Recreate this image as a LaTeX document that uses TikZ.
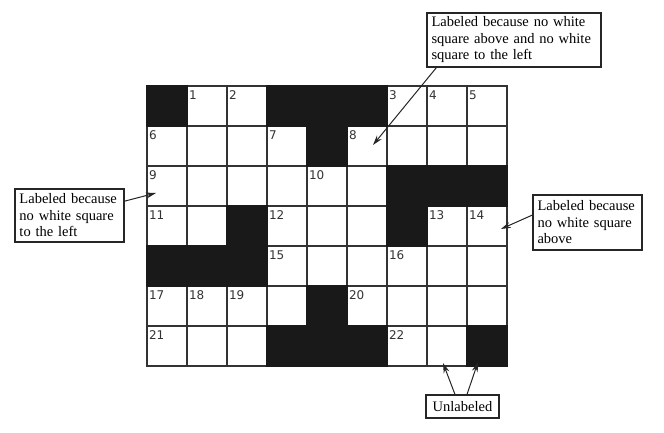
\documentclass[tikz,border=0pt]{standalone}
\usepackage{fontspec}
\setmainfont{Liberation Serif}
\newfontfamily\numfont{DejaVu Sans}
\usetikzlibrary{arrows.meta}

\begin{document}
\begin{tikzpicture}[x=1pt, y=-1pt, >={Stealth[length=10pt,width=6pt]},
  sq/.style={draw=black!80, line width=1.4pt, minimum size=40pt, inner sep=0pt},
  blk/.style={fill=black!90},
  num/.style={font=\numfont\fontsize{12}{12}\selectfont, anchor=north west, inner sep=0pt, text=black!80},
  note/.style={draw=black!85, line width=1.1pt, align=left, inner xsep=4.5pt, inner ysep=2pt,
    font=\fontsize{14.5}{16.5}\selectfont},
  ptr/.style={->, line width=1pt, black!85}]
  \useasboundingbox (0,0) rectangle (664,433);
  \fill[white] (0,0) rectangle (664,433);

  % the grid
  \foreach \r in {0,...,6}
    \foreach \c in {0,...,8}
      \node[sq] (s\c\r) at ({167+40*\c},{106+40*\r}) {};
  \foreach \p in {00,30,40,50,41,62,72,82,23,63,04,14,24,45,36,46,56,86}
    \fill[blk] (s\p.north west) rectangle (s\p.south east);

  % clue numbers
  \foreach \p/\n in {10/1,20/2,60/3,70/4,80/5,01/6,31/7,51/8,02/9,42/10,
                     03/11,33/12,73/13,83/14,34/15,64/16,05/17,15/18,25/19,55/20,06/21,66/22}
    \node[num] at ([xshift=2.5pt,yshift=-5pt]s\p.north west) {\n};

  % notes
  \node[note, text width=100pt, minimum height=53pt] (lbox) at (69.5,215.5)
    {Labeled because\\ no white square\\ to the left};
  \node[note, text width=165pt, minimum height=54pt] (tbox) at (514,40)
    {Labeled because no white\\ square above and no white\\ square to the left};
  \node[note, text width=100pt, minimum height=55pt] (rbox) at (587.5,222.5)
    {Labeled because\\ no white square\\ above};
  \node[note, align=center, minimum width=73pt, minimum height=23pt] (ubox) at (462.5,406.5)
    {Unlabeled};

  \coordinate (t9) at (156,193);
  \coordinate (t8) at (373,145);
  \coordinate (t14) at (501,229);
  \coordinate (tu1) at (443,363);
  \coordinate (tu2) at (478,362);

  \draw[ptr] (lbox) -- (t9);
  \draw[ptr] ([xshift=10pt]tbox.south west) -- (t8);
  \draw[ptr] ([yshift=7.5pt]rbox.west) -- (t14);
  \draw[ptr] ([xshift=-7.5pt]ubox.north) -- (tu1);
  \draw[ptr] ([xshift=4.5pt]ubox.north) -- (tu2);
\end{tikzpicture}
\end{document}
